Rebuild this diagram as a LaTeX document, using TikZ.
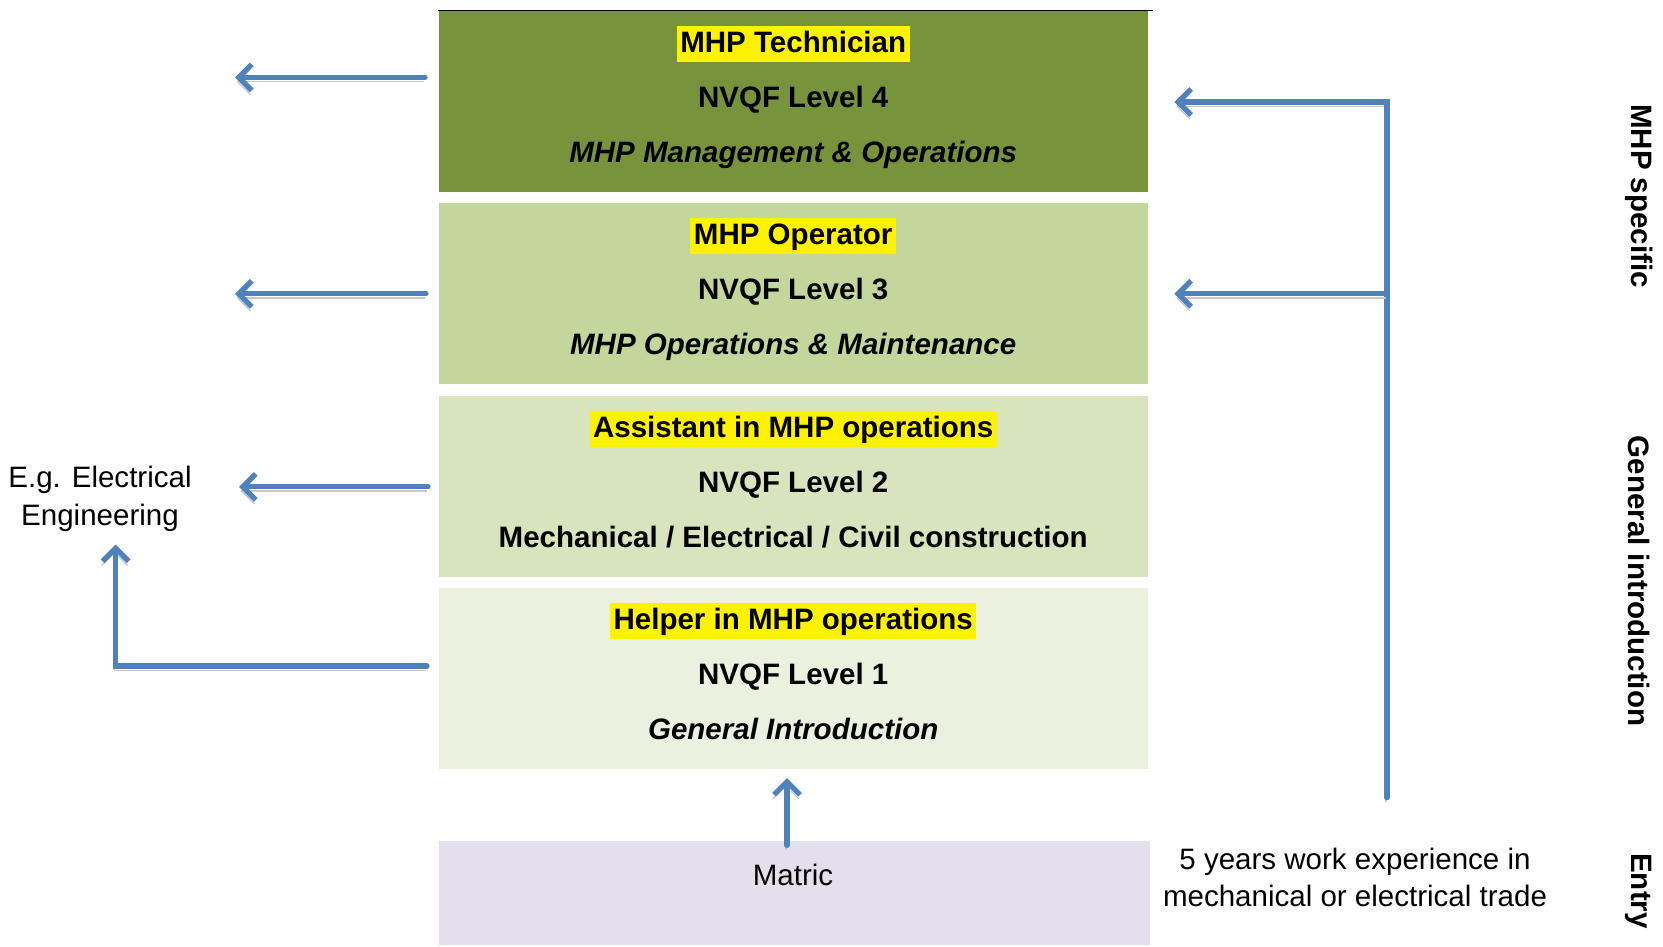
\documentclass[tikz,border=0pt]{standalone}
\usepackage{fontspec}
\setmainfont{Liberation Sans}
\usetikzlibrary{arrows.meta,positioning}
\definecolor{techgreen}{HTML}{77933C}
\definecolor{opergreen}{HTML}{C3D69B}
\definecolor{assistgreen}{HTML}{D7E4BD}
\definecolor{helpergreen}{HTML}{EBF1DE}
\definecolor{matriclilac}{HTML}{E4DFEC}
\definecolor{flowblue}{HTML}{4F81BD}
\definecolor{flowshadow}{HTML}{C8C8C8}
\tikzset{
  levelbox/.style={rectangle, minimum width=7.09cm, minimum height=1.81cm, inner sep=0pt, anchor=north west},
  line/.style={font=\fontsize{8.4}{10}\selectfont, text height=0.72em, text depth=0.2em, inner sep=0.5pt},
  title/.style={line, font=\fontsize{8.4}{10}\selectfont\bfseries, fill=yellow, inner xsep=1pt, inner ysep=0.6pt},
  side/.style={font=\fontsize{8.4}{10}\selectfont\bfseries, rotate=-90},
  flow/.style={draw=flowblue, line width=1.5pt, line cap=round, line join=miter,
    -{Straight Barb[length=1.3mm, width=2.6mm, line width=1.5pt]},
    preaction={draw=flowshadow, transform canvas={xshift=-0.3pt, yshift=-1.2pt}}}
}
\begin{document}
\begin{tikzpicture}
    \useasboundingbox (0,0) rectangle (16.63,9.46);
    % levels
    \node[levelbox, fill=techgreen] (tech) at (4.38,9.354) {};
    \node[levelbox, fill=opergreen] (oper) at (4.38,7.434) {};
    \node[levelbox, fill=assistgreen] (assist) at (4.38,5.504) {};
    \node[levelbox, fill=helpergreen] (helper) at (4.38,3.584) {};
    \node[levelbox, fill=matriclilac, minimum width=7.11cm, minimum height=1.04cm] (matric) at (4.38,1.06) {};
    \draw[line width=0.5pt] (tech.north west) -- ++(7.15,0);
    % texts of the levels
    \node[title] (techT) at ([yshift=5.8mm]tech.center) {MHP Technician};
    \node[line, font=\fontsize{8.4}{10}\selectfont\bfseries] (techL) at ([yshift=0.3mm]tech.center) {NVQF Level 4};
    \node[line, font=\fontsize{8.4}{10}\selectfont\bfseries\itshape] (techC) at ([yshift=-5.2mm]tech.center) {MHP Management \& Operations};
    \node[title] (operT) at ([yshift=5.8mm]oper.center) {MHP Operator};
    \node[line, font=\fontsize{8.4}{10}\selectfont\bfseries] (operL) at ([yshift=0.3mm]oper.center) {NVQF Level 3};
    \node[line, font=\fontsize{8.4}{10}\selectfont\bfseries\itshape] (operC) at ([yshift=-5.2mm]oper.center) {MHP Operations \& Maintenance};
    \node[title] (assistT) at ([yshift=5.8mm]assist.center) {Assistant in MHP operations};
    \node[line, font=\fontsize{8.4}{10}\selectfont\bfseries] (assistL) at ([yshift=0.3mm]assist.center) {NVQF Level 2};
    \node[line, font=\fontsize{8.4}{10}\selectfont\bfseries] (assistC) at ([yshift=-5.2mm]assist.center) {Mechanical / Electrical / Civil construction};
    \node[title] (helperT) at ([yshift=5.8mm]helper.center) {Helper in MHP operations};
    \node[line, font=\fontsize{8.4}{10}\selectfont\bfseries] (helperL) at ([yshift=0.3mm]helper.center) {NVQF Level 1};
    \node[line, font=\fontsize{8.4}{10}\selectfont\bfseries\itshape] (helperC) at ([yshift=-5.2mm]helper.center) {General Introduction};
    \node[line] (matricT) at (7.93,0.70) {Matric};
    % other labels
    \node[line, align=center, font=\fontsize{8.4}{11}\selectfont, text height=, text depth=] (eg) at (1.0,4.47) {E.g. Electrical\\Engineering};
    \node[line, align=center, font=\fontsize{8.4}{10.6}\selectfont, text height=, text depth=] (exper) at (13.55,0.685) {5 years work experience in\\mechanical or electrical trade};
    \node[side] (specific) at (16.39,7.50) {MHP specific};
    \node[side] (general) at (16.39,3.65) {General introduction};
    \node[side] (entry) at (16.39,0.55) {Entry};
    % arrows
    \coordinate (out4) at (2.35,8.686);
    \coordinate (out3) at (2.35,6.522);
    \coordinate (out2) at (2.39,4.592);
    \coordinate (out1) at (1.156,2.80);
    \coordinate (up) at (7.87,1.007);
    \coordinate (exp) at (13.87,1.484);
    \coordinate (r4) at (13.87,8.44);
    \coordinate (r3) at (13.87,6.522);
    \draw[flow, shorten <=1.3mm] (tech.west |- out4) -- (out4);
    \draw[flow, shorten <=1.2mm] (oper.west |- out3) -- (out3);
    \draw[flow, shorten <=1mm] (assist.west |- out2) -- (out2);
    \draw[flow, shorten <=1.1mm] (helper.west |- out1) -- (out1) -- ([yshift=-1mm]eg.south -| out1);
    \draw[flow, shorten >=0.8mm] (up) -- (helper.south -| up);
    \draw[flow, shorten >=2.6mm] (exp) -- (r4) -- (tech.east |- r4);
    \draw[flow, shorten >=2.6mm] (r3) -- (oper.east |- r3);
\end{tikzpicture}
\end{document}
